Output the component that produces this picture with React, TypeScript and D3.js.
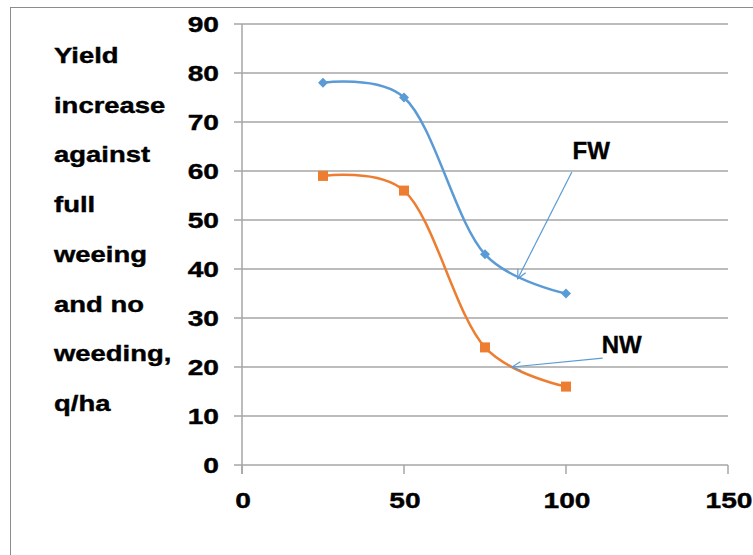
import React from "react";
import * as d3 from "d3";

const xValues = [25, 50, 75, 100];
const fwValues = [78, 75, 43, 35];
const nwValues = [59, 56, 24, 16];
const yTicks = [0, 10, 20, 30, 40, 50, 60, 70, 80, 90];
const xTicks = [0, 50, 100, 150];
const titleLines = ["Yield", "increase", "against", "full", "weeing", "and no", "weeding,", "q/ha"];
// annotations: label, label anchor (data coords), arrow start, arrow tip
const annoLabels = ["FW", "NW"];
const annoText = [[102, 62.5], [111, 22.8]];
const annoFrom = [[101.8, 59.8], [111.3, 21.8]];
const annoTo = [[85.1, 38], [83.3, 20]];

const W = 753, H = 555;
const BLUE = "#5B9BD5", ORANGE = "#ED7D31", GRID = "#a6a6a6";
const FONT = "'Liberation Sans', Arial, sans-serif";

export default function App() {
  const x = d3.scaleLinear().domain([0, 150]).range([242, 728]);
  const y = d3.scaleLinear().domain([0, 90]).range([465, 24]);
  const line = d3.line<[number, number]>().x(d => x(d[0])).y(d => y(d[1])).curve(d3.curveCatmullRom.alpha(0.25));
  const fw = xValues.map((v, i) => [v, fwValues[i]] as [number, number]);
  const nw = xValues.map((v, i) => [v, nwValues[i]] as [number, number]);
  const sxT = 1.25, sxL = 1.22;
  const textProps = { fontFamily: FONT, fontWeight: "bold" as const, fill: "#000", stroke: "#000", strokeWidth: 0.4 };

  const arrow = (i: number) => {
    const [x1, y1] = [x(annoFrom[i][0]), y(annoFrom[i][1])];
    const [x2, y2] = [x(annoTo[i][0]), y(annoTo[i][1])];
    const ang = Math.atan2(y2 - y1, x2 - x1);
    const L = 10, a = 0.45;
    const p1 = [x2 - L * Math.cos(ang - a), y2 - L * Math.sin(ang - a)];
    const p2 = [x2 - L * Math.cos(ang + a), y2 - L * Math.sin(ang + a)];
    return (
      <g key={"a" + i} stroke={BLUE} strokeWidth={1.2} fill="none">
        <line x1={x1} y1={y1} x2={x2} y2={y2} />
        <polyline points={`${p1[0]},${p1[1]} ${x2},${y2} ${p2[0]},${p2[1]}`} />
      </g>
    );
  };

  return (
    <svg width={W} height={H} style={{ position: "absolute", left: 0, top: 0, background: "#fff" }}>
      <rect x={10.5} y={7.5} width={W + 10} height={H + 10} fill="#fff" stroke="#8c8c8c" strokeWidth={1} />
      {yTicks.map(t => (
        <g key={"y" + t}>
          <line x1={234} x2={728} y1={y(t)} y2={y(t)} stroke={GRID} strokeWidth={1.5} />
          <text transform={`translate(219,${y(t) + 8}) scale(${sxT},1)`} textAnchor="end" fontSize={22.5} {...textProps}>{t}</text>
        </g>
      ))}
      <line x1={242} x2={242} y1={y(90)} y2={474} stroke={GRID} strokeWidth={1.5} />
      {xTicks.map(t => (
        <g key={"x" + t}>
          <line x1={x(t)} x2={x(t)} y1={465} y2={474} stroke={GRID} strokeWidth={1.5} />
          <text transform={`translate(${x(t) + 1},${508}) scale(${sxT},1)`} textAnchor="middle" fontSize={22.5} {...textProps}>{t}</text>
        </g>
      ))}
      {titleLines.map((s, i) => (
        <text key={"t" + i} transform={`translate(54,${63 + i * 49.7}) scale(${sxL},1)`} fontSize={22.5} {...textProps}>{s}</text>
      ))}
      <path d={line(fw) || ""} fill="none" stroke={BLUE} strokeWidth={2.5} />
      <path d={line(nw) || ""} fill="none" stroke={ORANGE} strokeWidth={2.5} />
      {fw.map((d, i) => {
        const cx = x(d[0]), cy = y(d[1]), r = 5;
        return <polygon key={"fm" + i} points={`${cx},${cy - r} ${cx + r},${cy} ${cx},${cy + r} ${cx - r},${cy}`} fill={BLUE} />;
      })}
      {nw.map((d, i) => (
        <rect key={"nm" + i} x={x(d[0]) - 5} y={y(d[1]) - 5} width={10} height={10} fill={ORANGE} />
      ))}
      {annoLabels.map((_, i) => arrow(i))}
      {annoLabels.map((s, i) => (
        <text key={"l" + i} x={x(annoText[i][0])} y={y(annoText[i][1])} fontSize={24} {...textProps}>{s}</text>
      ))}
    </svg>
  );
}
